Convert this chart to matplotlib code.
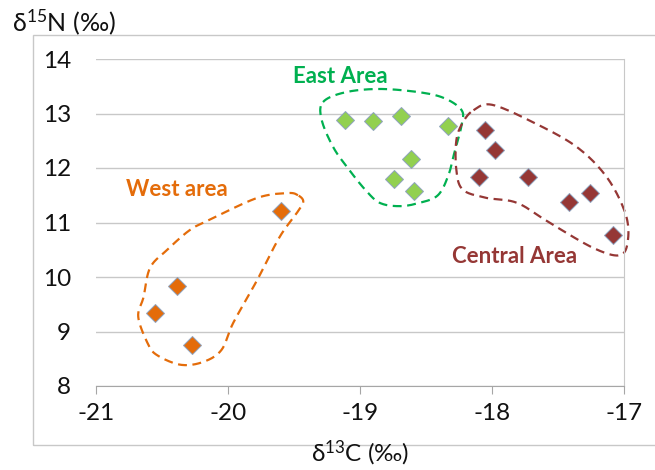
import numpy as np
import matplotlib
matplotlib.use("Agg")
import matplotlib.pyplot as plt
from matplotlib.patches import Rectangle

plt.rcParams['font.family'] = ['Lato', 'DejaVu Sans']
plt.rcParams['mathtext.fontset'] = 'custom'
plt.rcParams['mathtext.rm'] = 'Lato'
plt.rcParams['mathtext.it'] = 'Lato:italic'
plt.rcParams['mathtext.bf'] = 'Lato:bold'
plt.rcParams['axes.unicode_minus'] = False

# Data: d13C (x), d15N (y)
west_c = [-19.60, -20.39, -20.55, -20.27]
west_n = [11.21, 9.83, 9.34, 8.75]
east_c = [-19.11, -18.90, -18.69, -18.33, -18.61, -18.74, -18.59]
east_n = [12.88, 12.86, 12.95, 12.77, 12.17, 11.80, 11.58]
central_c = [-18.05, -17.98, -18.10, -17.73, -17.42, -17.26, -17.08]
central_n = [12.70, 12.33, 11.83, 11.83, 11.38, 11.54, 10.77]

# hand-drawn group outlines (data coords)
east_hull = [(-19.28, 13.21), (-19.11, 13.39), (-18.85, 13.45), (-18.55, 13.39),
             (-18.36, 13.28), (-18.23, 13.06), (-18.23, 12.79), (-18.28, 12.33),
             (-18.33, 11.87), (-18.41, 11.50), (-18.55, 11.36), (-18.70, 11.30),
             (-18.85, 11.36), (-18.96, 11.60), (-19.08, 11.96), (-19.20, 12.37),
             (-19.29, 12.88)]
central_hull = [(-18.14, 13.06), (-18.00, 13.16), (-17.69, 12.84), (-17.36, 12.39),
                (-17.13, 11.83), (-16.99, 11.17), (-16.97, 10.68), (-17.03, 10.40),
                (-17.23, 10.53), (-17.56, 10.99), (-17.81, 11.36), (-18.04, 11.45),
                (-18.22, 11.60), (-18.27, 11.96), (-18.27, 12.51), (-18.22, 12.84)]
west_hull = [(-19.47, 11.50), (-19.55, 11.54), (-19.78, 11.45), (-20.14, 11.05),
             (-20.29, 10.86), (-20.46, 10.50), (-20.59, 10.17), (-20.64, 9.63),
             (-20.68, 9.27), (-20.61, 8.79), (-20.54, 8.57), (-20.36, 8.39),
             (-20.19, 8.44), (-20.05, 8.66), (-19.96, 9.16), (-19.78, 9.94),
             (-19.61, 10.73), (-19.48, 11.17), (-19.43, 11.38)]


def smooth_closed(pts, n=20):
    # closed Catmull-Rom curve through the outline points
    p = np.array(pts)
    k = len(p)
    out = []
    for i in range(k):
        p0, p1, p2, p3 = p[i - 1], p[i], p[(i + 1) % k], p[(i + 2) % k]
        for t in np.linspace(0, 1, n, endpoint=False):
            t2, t3 = t * t, t * t * t
            out.append(0.5 * ((2 * p1) + (-p0 + p2) * t
                              + (2 * p0 - 5 * p1 + 4 * p2 - p3) * t2
                              + (-p0 + 3 * p1 - 3 * p2 + p3) * t3))
    out.append(out[0])
    return np.array(out)


fig = plt.figure(figsize=(6.55, 4.7), dpi=100)
ax = fig.add_axes([96 / 655, 1 - 386 / 470, (624 - 96) / 655, (386 - 59) / 470])

# outer chart border
fig.patches.append(Rectangle((33 / 655, 1 - 445 / 470), 1.0, (445 - 35) / 470,
                             transform=fig.transFigure, fill=False,
                             edgecolor='#c8c8c8', lw=1.0))

ax.set_xlim(-21, -17)
ax.set_ylim(8, 14)
ax.set_xticks([-21, -20, -19, -18, -17])
ax.set_yticks([8, 9, 10, 11, 12, 13, 14])
ax.grid(axis='y', color='#c8c8c8', lw=1.0)
ax.set_axisbelow(True)
for s in ['left', 'top']:
    ax.spines[s].set_visible(False)
ax.spines['right'].set_color('#c8c8c8')
ax.spines['bottom'].set_color('#a6a6a6')
ax.tick_params(axis='y', length=0, pad=18, labelsize=17.5, labelcolor='#111111')
ax.tick_params(axis='x', length=6, color='#a6a6a6', pad=6, labelsize=17.5,
               labelcolor='#111111')

edge = '#8fa3bf'
ax.plot(west_c, west_n, 'D', ms=9.5, color='#e46c0a', mec=edge, mew=0.7, zorder=3)
ax.plot(east_c, east_n, 'D', ms=9.5, color='#92d050', mec=edge, mew=0.7, zorder=3)
ax.plot(central_c, central_n, 'D', ms=9.5, color='#953735', mec=edge, mew=0.7, zorder=3)

for hull, col in [(east_hull, '#00b050'), (central_hull, '#953735'), (west_hull, '#e46c0a')]:
    c = smooth_closed(hull)
    ax.plot(c[:, 0], c[:, 1], color=col, lw=1.6, ls=(0, (4, 2.5)), clip_on=False, zorder=2)

ax.text(-19.15, 13.67, 'East Area', color='#00b050', fontsize=16, fontweight='bold',
        ha='center', va='center')
ax.text(-20.39, 11.6, 'West area', color='#e46c0a', fontsize=16, fontweight='bold',
        ha='center', va='center')
ax.text(-17.83, 10.37, 'Central Area', color='#953735', fontsize=16, fontweight='bold',
        ha='center', va='center')

fig.text(12 / 655, 1 - 22 / 470, 'δ$^{15}$N (‰)', fontsize=18, ha='left', va='center',
         color='#111111')
fig.text(360 / 655, 2 / 470, 'δ$^{13}$C (‰)', fontsize=17.5, ha='center', va='bottom',
         color='#111111')

fig.savefig('out.png', dpi=100)
